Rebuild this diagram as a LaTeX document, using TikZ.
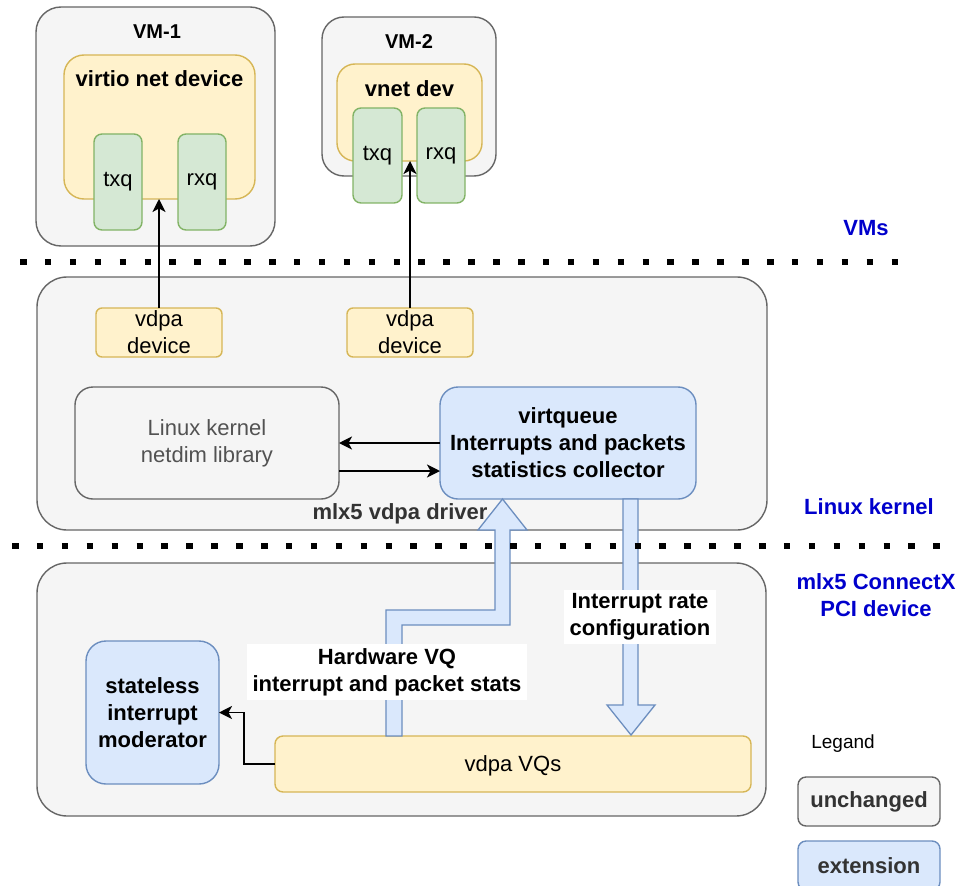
\documentclass[tikz,border=0pt]{standalone}
\usepackage{fontspec}
\setmainfont{Liberation Sans}
\usetikzlibrary{arrows.meta}
\definecolor{grayfill}{HTML}{F5F5F5}
\definecolor{graydraw}{HTML}{666666}
\definecolor{yelfill}{HTML}{FFF2CC}
\definecolor{yeldraw}{HTML}{D6B656}
\definecolor{grnfill}{HTML}{D5E8D4}
\definecolor{grndraw}{HTML}{82B366}
\definecolor{blufill}{HTML}{DAE8FC}
\definecolor{bludraw}{HTML}{6C8EBF}
\definecolor{lblblue}{HTML}{0000CC}
\definecolor{txtgray}{HTML}{333333}
\tikzset{
  box/.style={rounded corners=#1, line width=1.4pt, inner sep=0pt, outer sep=0pt, align=center,
    font=\fontsize{22}{27}\selectfont},
  graybox/.style={box=#1, fill=grayfill, draw=graydraw},
  yelbox/.style={box=#1, fill=yelfill, draw=yeldraw},
  grnbox/.style={box=#1, fill=grnfill, draw=grndraw},
  blubox/.style={box=#1, fill=blufill, draw=bludraw},
  bt/.style={font=\fontsize{22}{27}\selectfont\bfseries, align=center, inner sep=0pt},
  rt/.style={font=\fontsize{22}{27}\selectfont, align=center, inner sep=0pt},
  bluelbl/.style={bt, text=lblblue},
  arr/.style={line width=1.7pt, -{Stealth[length=13pt,width=13pt,inset=3.5pt]}},
  fatarrow/.style={fill=blufill, draw=bludraw, line width=1.3pt, line join=miter},
  dotline/.style={line width=6.5pt, dash pattern=on 6.5pt off 18.4pt},
}
\begin{document}
\begin{tikzpicture}[x=1pt,y=-1pt]
\useasboundingbox (0,0) rectangle (957,885);
% VM-1
\node[graybox=25, minimum width=239pt, minimum height=239pt] (vm1) at (155.5,126.5) {};
\node[bt, font=\fontsize{20}{24}\selectfont\bfseries] (vm1lbl) at (157,32) {VM-1};
\node[yelbox=20, minimum width=191pt, minimum height=144pt] (vnd1) at (159.5,127) {};
\node[bt] (vnd1lbl) at (159.5,79) {virtio net device};
\node[grnbox=8, minimum width=48pt, minimum height=96pt] (txq1) at (118,182) {txq};
\node[grnbox=8, minimum width=48pt, minimum height=96pt] (rxq1) at (202,182) {rxq};
% VM-2
\node[graybox=22, minimum width=174pt, minimum height=159pt] (vm2) at (409,96.5) {};
\node[bt, font=\fontsize{20}{24}\selectfont\bfseries] (vm2lbl) at (409,42) {VM-2};
\node[yelbox=18, minimum width=145pt, minimum height=97pt] (vnd2) at (409.5,112.5) {};
\node[bt] (vnd2lbl) at (409.5,89) {vnet dev};
\node[grnbox=8, minimum width=49pt, minimum height=95pt] (txq2) at (377.5,155.5) {txq};
\node[grnbox=8, minimum width=48pt, minimum height=95pt] (rxq2) at (441,155.5) {rxq};
% driver box
\node[graybox=30, minimum width=730pt, minimum height=253pt] (drv) at (402,403.5) {};
\node[yelbox=6, minimum width=126pt, minimum height=49pt] (vdev1) at (159,332.5) {vdpa\\device};
\node[yelbox=6, minimum width=126pt, minimum height=49pt] (vdev2) at (410,332.5) {vdpa\\device};
\node[graybox=18, minimum width=264pt, minimum height=112pt, text=txtgray!85] (netdim) at (207,443) {Linux kernel\\netdim library};
\node[blubox=18, minimum width=256pt, minimum height=112pt, font=\fontsize{22}{27}\selectfont\bfseries] (vqc) at (568,443) {virtqueue\\Interrupts and packets\\statistics collector};
% PCI box
\node[graybox=30, minimum width=729pt, minimum height=253pt] (pci) at (401.5,689.5) {};
\node[blubox=20, minimum width=133pt, minimum height=143pt, font=\fontsize{22}{27}\selectfont\bfseries] (mod) at (152.5,712.5) {stateless\\interrupt\\moderator};
\node[yelbox=8, minimum width=476pt, minimum height=56pt] (vqs) at (513,764) {};
\node[rt] (vqslbl) at (513,766) {vdpa VQs};
% fat arrows
\draw[fatarrow] (386,736) -- (386,610) -- (495,610) -- (495,530) -- (478,530) -- (502.5,499) -- (527,530) -- (510,530) -- (510,625) -- (402,625) -- (402,736) -- cycle;
\draw[fatarrow] (623,499) -- (623,705) -- (607,705) -- (631,735) -- (655,705) -- (638,705) -- (638,499) -- cycle;
\node[bt, text=txtgray] (drvlbl) at (400,514) {mlx5 vdpa driver};
\node[bt, fill=white, inner xsep=6pt, inner ysep=4pt] (hwlbl) at (387,672) {Hardware VQ\\interrupt and packet stats};
\node[bt, fill=white, inner xsep=6pt, inner ysep=4pt] (irlbl) at (640,617) {Interrupt rate\\configuration};
% connectors
\draw[arr] (vdev1.north) -- (vdev1.north |- vnd1.south);
\draw[arr] (vdev2.north) -- (vdev2.north |- vnd2.south);
\draw[arr] (vqc.west) -- (netdim.east);
\draw[arr] ([yshift=-28pt]netdim.east) -- ([yshift=-28pt]vqc.west);
\coordinate (bend) at (244,764);
\draw[arr] (vqs.west) -- (bend) |- (mod.east);
% dotted separators
\draw[dotline] (20,262) -- (916,262);
\draw[dotline] (12,546) -- (942,546);
% side labels
\node[bluelbl] (vmslbl) at (866,228) {VMs};
\node[bluelbl] (lklbl) at (869,507) {Linux kernel};
\node[bluelbl] (pcilbl) at (876,595) {mlx5 ConnectX\\PCI device};
% legend
\node[rt, font=\fontsize{19}{23}\selectfont] (leg) at (843,744) {Legand};
\node[graybox=8, minimum width=142pt, minimum height=49pt, font=\fontsize{22}{27}\selectfont\bfseries, text=txtgray] (unch) at (869,801.5) {unchanged};
\node[blubox=8, minimum width=142pt, minimum height=49pt, font=\fontsize{22}{27}\selectfont\bfseries, text=txtgray] (ext) at (869,865.5) {extension};
\end{tikzpicture}
\end{document}
